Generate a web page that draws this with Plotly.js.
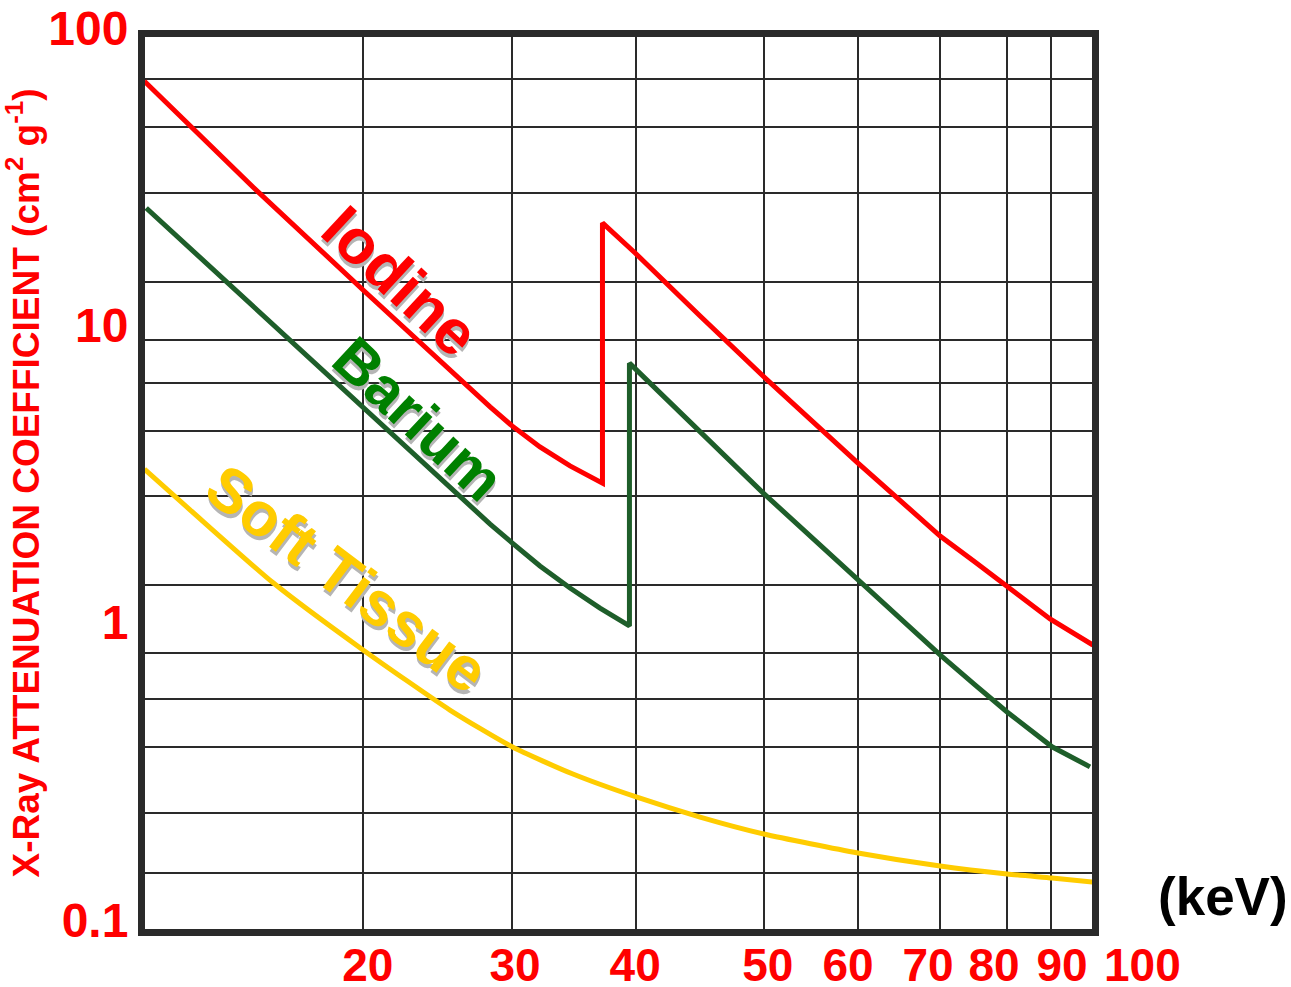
<!DOCTYPE html>
<html>
<head>
<meta charset="utf-8">
<script src="https://cdn.plot.ly/plotly-3.0.1.min.js"></script>
<style>html,body{margin:0;padding:0;background:#fff;}#chart{width:1291px;height:987px;}</style>
</head>
<body>
<div id="chart"></div>
<script>
// ---- data ----
const energyIodine = [12.4, 15.72, 20.0, 24.72, 26.40, 27.70, 29.44, 31.44, 33.75, 33.75, 36.25, 41.78, 47.94, 59.0, 64.67, 70.6, 76.19, 81.73, 89.78, 98.6];
const muIodine     = [71, 31.3, 14.1, 7.02, 5.70, 4.92, 4.18, 3.61, 3.16, 23.7, 18.77, 11.53, 7.24, 3.69, 2.772, 2.097, 1.715, 1.413, 1.103, 0.902];

const energyBarium = [12.45, 20.0, 24.72, 26.40, 27.70, 29.44, 31.44, 33.57, 35.8, 35.8, 47.94, 59.0, 70.6, 76.19, 81.73, 90.17, 97.97];
const muBarium     = [26.6, 5.70, 2.84, 2.30, 1.99, 1.663, 1.402, 1.201, 1.045, 8.0, 2.93, 1.49, 0.835, 0.662, 0.537, 0.410, 0.351];

const energySoft = [12.4, 13.70, 16.43, 20.0, 24.18, 27.70, 31.64, 36.33, 41.78, 48.03, 59.0, 70.6, 81.73, 90.17, 98.6];
const muSoft     = [3.52, 2.57, 1.46, 0.868, 0.545, 0.410, 0.332, 0.278, 0.238, 0.2087, 0.1801, 0.1628, 0.1531, 0.1484, 0.1439];

// hand-drawn grid of the original (values where its lines and labels sit)
const gridX      = [20.0, 27.70, 36.33, 48.03, 59.00, 70.60, 81.73, 89.98];
const xLabelVals = [20.21, 27.88, 36.25, 48.45, 57.72, 68.77, 79.43, 92.15];
const xLabels    = ['20', '30', '40', '50', '60', '70', '80', '90', '100'];
const gridY      = [72.24, 49.82, 29.88, 15.00, 9.57, 6.86, 4.73, 2.86, 1.435, 0.848, 0.594, 0.4095, 0.2455, 0.1543];
const shortTickY = [85.66, 59.53, 38.29, 23.13, 8.135, 5.610, 3.664, 2.197, 0.7039, 0.4856, 0.3170, 0.1902];
const yTickVals  = [0.1, 1, 10, 100];
const yLabels    = ['0.1', '1', '10', '100'];
const seriesNames = ['Iodine', 'Barium', 'Soft Tissue'];

// ---- styling ----
const FONT = 'Liberation Sans, Arial, Helvetica, sans-serif';
const INK = '#2a2a2a';
const RED = '#ff0000';

const traces = [
  {x: energyIodine, y: muIodine, name: seriesNames[0], mode: 'lines',
   line: {color: '#ff0000', width: 5}},
  {x: energyBarium, y: muBarium, name: seriesNames[1], mode: 'lines',
   line: {color: '#1e5e2a', width: 5}},
  {x: energySoft, y: muSoft, name: seriesNames[2], mode: 'lines',
   line: {color: '#ffcc00', width: 5, shape: 'spline', smoothing: 0.6}}
];

const shadow = '3px 3px 0px #b5b5b5';
const layout = {
  width: 1291, height: 987,
  margin: {l: 145, r: 199, t: 37, b: 58},
  paper_bgcolor: '#ffffff', plot_bgcolor: '#ffffff',
  showlegend: false,
  xaxis: {
    type: 'log', range: [1.094, 1.993],
    tickmode: 'array', tickvals: xLabelVals, ticktext: xLabels.slice(0, xLabelVals.length),
    ticks: '', showgrid: false,
    minor: {tickmode: 'array', tickvals: gridX, showgrid: true, gridcolor: INK, gridwidth: 2, ticks: ''},
    showline: true, linewidth: 7, linecolor: INK, mirror: true, zeroline: false,
    tickangle: 0, ticklabelstandoff: -10,
    tickfont: {family: FONT, size: 46, color: RED, weight: 'bold'}
  },
  yaxis: {
    type: 'log', range: [-1, 2],
    tickmode: 'array', tickvals: yTickVals, ticktext: yLabels,
    ticks: '', showgrid: false,
    minor: {tickmode: 'array', tickvals: gridY, showgrid: true, gridcolor: INK, gridwidth: 2, ticks: ''},
    showline: true, linewidth: 7, linecolor: INK, mirror: true, zeroline: false,
    ticklabelshift: -9,
    tickfont: {family: FONT, size: 48, color: RED, weight: 'bold'},
    title: {text: 'X-Ray ATTENUATION COEFFICIENT (cm<sup>2</sup> g<sup>-1</sup>)',
            font: {family: FONT, size: 37, color: RED, weight: 'bold'}, standoff: 0}
  },
  yaxis2: {
    type: 'log', range: [-1, 2], overlaying: 'y', side: 'left', anchor: 'x',
    tickmode: 'array', tickvals: shortTickY,
    ticks: 'inside', ticklen: 22, tickwidth: 2, tickcolor: INK,
    showticklabels: false, showgrid: false, showline: false, zeroline: false
  },
  annotations: [
    {xref: 'x', yref: 'y', x: 1.3370, y: 1.1800, text: seriesNames[0], showarrow: false, textangle: 43,
     font: {family: FONT, size: 63, color: '#ff0000', weight: 'bold', shadow: shadow}},
    {xref: 'x', yref: 'y', x: 1.3540, y: 0.7150, text: seriesNames[1], showarrow: false, textangle: 43,
     font: {family: FONT, size: 60, color: '#008000', weight: 'bold', shadow: shadow}},
    {xref: 'x', yref: 'y', x: 1.2860, y: 0.1805, text: seriesNames[2], showarrow: false, textangle: 37,
     font: {family: FONT, size: 62, color: '#ffcc00', weight: 'bold', shadow: shadow}},
    {xref: 'paper', yref: 'paper', x: 1.138, y: 0.036, xanchor: 'center', yanchor: 'middle',
     text: '(keV)', showarrow: false,
     font: {family: FONT, size: 53, color: '#000000', weight: 'bold'}},
    {xref: 'paper', yref: 'paper', x: 1.0528, y: -0.0404, xanchor: 'center', yanchor: 'middle',
     text: xLabels[xLabels.length - 1], showarrow: false,
     font: {family: FONT, size: 46, color: RED, weight: 'bold'}}
  ]
};

Plotly.newPlot('chart', traces, layout, {displayModeBar: false, staticPlot: true});
</script>
</body>
</html>
